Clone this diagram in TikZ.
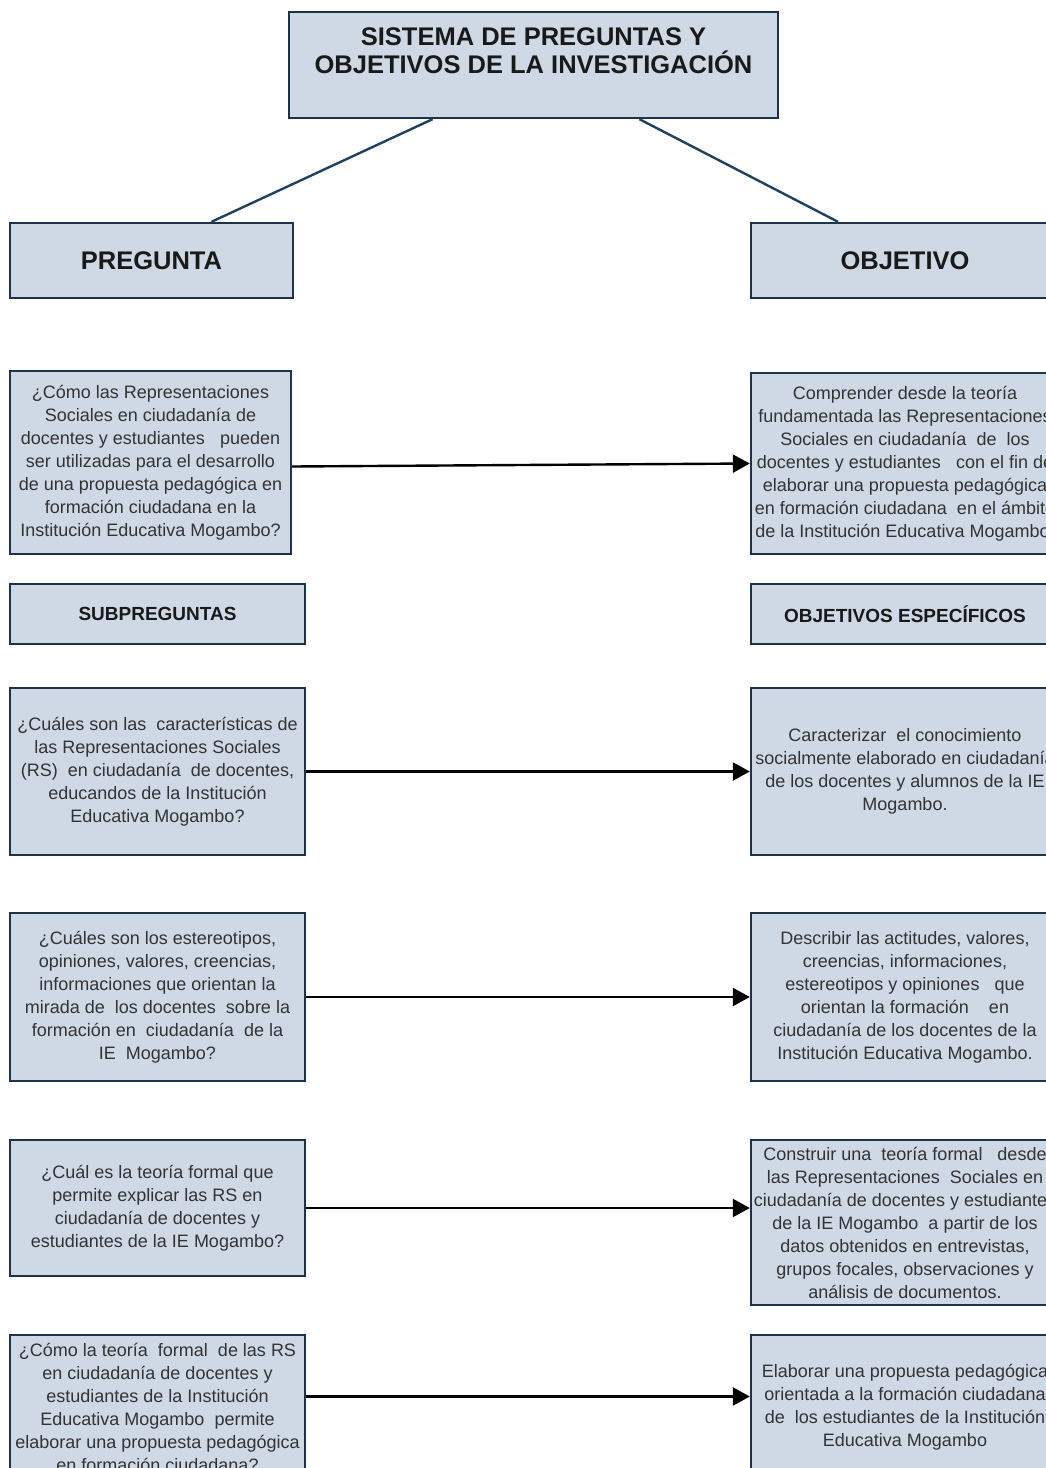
\documentclass[tikz,border=0pt]{standalone}
\usepackage{fontspec}
\setmainfont{Liberation Sans}
\usetikzlibrary{arrows.meta}
\definecolor{cajafondo}{HTML}{CFD8E5}
\definecolor{cajaborde}{HTML}{1C3349}
\definecolor{lineaazul}{HTML}{1F4262}
\definecolor{textogris}{HTML}{333333}
\tikzset{
  caja/.style={draw=cajaborde, fill=cajafondo, line width=2.4pt,
    inner sep=2pt, align=center, text=textogris,
    font=\fontsize{18}{23}\selectfont},
  cabecera/.style={caja, text=black!90, font=\bfseries\fontsize{25.5}{28}\selectfont},
  subcabecera/.style={caja, text=black!90, font=\bfseries\fontsize{19}{22}\selectfont},
  flecha/.style={-{Triangle[length=17pt,width=18pt]}, line width=2.4pt, black},
}
\begin{document}
\begin{tikzpicture}[x=1pt,y=-1pt]
  \useasboundingbox[fill=white] (0,0) rectangle (1045,1468);
  \draw
    (533.5,65) node[cabecera, minimum width=489pt, minimum height=106pt] (titulo)
      {SISTEMA DE PREGUNTAS Y\\OBJETIVOS DE LA INVESTIGACIÓN\\[-8pt]\strut}
    (151.5,260.5) node[cabecera, minimum width=283pt, minimum height=75pt] (preg) {PREGUNTA}
    (905,260.5) node[cabecera, minimum width=308pt, minimum height=75pt] (obj) {OBJETIVO}
    (150.5,462.5) node[caja, minimum width=281pt, minimum height=183pt] (q0)
      {¿Cómo las Representaciones\\Sociales en ciudadanía de\\docentes y estudiantes \ \ pueden\\ser utilizadas para el desarrollo\\de una propuesta pedagógica en\\formación ciudadana en la\\Institución Educativa Mogambo?}
    (905,463.5) node[caja, minimum width=308pt, minimum height=181pt] (o0)
      {Comprender desde la teoría\\fundamentada las Representaciones\\Sociales en ciudadanía \ de \ los\\docentes y estudiantes \ \ con el fin de\\elaborar una propuesta pedagógica\\en formación ciudadana \ en el ámbito\\de la Institución Educativa Mogambo.}
    (157.5,614) node[subcabecera, minimum width=295pt, minimum height=60pt] (subp) {SUBPREGUNTAS}
    (905,614) node[subcabecera, minimum width=308pt, minimum height=60pt] (objesp) {OBJETIVOS ESPECÍFICOS}
    (157.5,771.5) node[caja, minimum width=295pt, minimum height=167pt] (q1)
      {¿Cuáles son las \ características de\\las Representaciones Sociales\\(RS) \ en ciudadanía \ de docentes,\\educandos de la Institución\\Educativa Mogambo?}
    (905,771.5) node[caja, minimum width=308pt, minimum height=167pt] (o1)
      {Caracterizar \ el conocimiento\\socialmente elaborado en ciudadanía\\de los docentes y alumnos de la IE\\Mogambo.}
    (157.5,997) node[caja, minimum width=295pt, minimum height=168pt] (q2)
      {¿Cuáles son los estereotipos,\\opiniones, valores, creencias,\\informaciones que orientan la\\mirada de \ los docentes \ sobre la\\formación en \ ciudadanía \ de la\\IE \ Mogambo?}
    (905,997) node[caja, minimum width=308pt, minimum height=168pt] (o2)
      {Describir las actitudes, valores,\\creencias, informaciones,\\estereotipos y opiniones \ \ que\\orientan la formación \ \ \ en\\ciudadanía de los docentes de la\\Institución Educativa Mogambo.}
    (157.5,1208) node[caja, minimum width=295pt, minimum height=136pt] (q3)
      {¿Cuál es la teoría formal que\\permite explicar las RS en\\ciudadanía de docentes y\\estudiantes de la IE Mogambo?}
    (905,1222.5) node[caja, minimum width=308pt, minimum height=165pt] (o3)
      {Construir una \ teoría formal \ \ desde\\las Representaciones \ Sociales en\\ciudadanía de docentes y estudiantes\\de la IE Mogambo \ a partir de los\\datos obtenidos en entrevistas,\\grupos focales, observaciones y\\análisis de documentos.}
    (157.5,1407.5) node[caja, minimum width=295pt, minimum height=145pt] (q4)
      {¿Cómo la teoría \ formal \ de las RS\\en ciudadanía de docentes y\\estudiantes de la Institución\\Educativa Mogambo \ permite\\elaborar una propuesta pedagógica\\en formación ciudadana?}
    (905,1407.5) node[caja, minimum width=308pt, minimum height=145pt] (o4)
      {Elaborar una propuesta pedagógica\\orientada a la formación ciudadana\\de \ los estudiantes de la Institución\\Educativa Mogambo};
  \begin{scope}[line width=2.4pt, lineaazul]
    \draw ([xshift=-101pt]titulo.south) to ([xshift=60pt]preg.north);
    \draw ([xshift=106pt]titulo.south) to ([xshift=-67pt]obj.north);
  \end{scope}
  \begin{scope}[flecha]
    \draw ([yshift=-4pt]q0.east) to (o0.west);
    \draw (q1.east) to (o1.west);
    \draw (q2.east) to (o2.west);
    \draw (q3.east) to (q3.east -| o3.west);
    \draw ([yshift=11pt]q4.east) to ([yshift=11pt]q4.east -| o4.west);
  \end{scope}
\end{tikzpicture}
\end{document}
